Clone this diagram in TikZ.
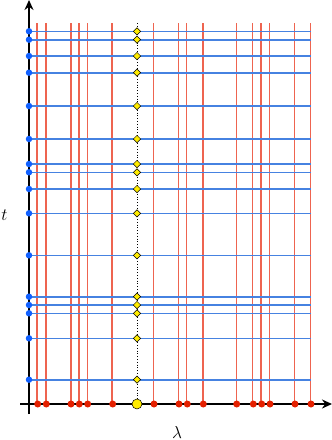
\documentclass[tikz,border=0pt]{standalone}
\usetikzlibrary{arrows.meta,shapes.geometric}
\definecolor{lnred}{RGB}{238,100,80}
\definecolor{dotred}{RGB}{228,32,0}
\definecolor{lnblue}{RGB}{70,130,225}
\definecolor{dotblue}{RGB}{16,96,255}
\definecolor{ylw}{RGB}{255,236,0}
\begin{document}
\begin{tikzpicture}[x=1pt,y=-1pt,
  redline/.style={draw=lnred, line width=1.6pt},
  blueline/.style={draw=lnblue, line width=1.6pt},
  axisline/.style={draw=black, line width=1.8pt},
  reddot/.style={circle, fill=dotred, inner sep=0pt, minimum size=7pt},
  bluedot/.style={circle, fill=dotblue, inner sep=0pt, minimum size=6.5pt},
  ydiam/.style={diamond, fill=ylw, draw=black, line width=0.5pt, inner sep=0pt, minimum size=7.5pt},
  ycirc/.style={circle, fill=ylw, draw=black, line width=0.5pt, inner sep=0pt, minimum size=10pt},
  lbl/.style={inner sep=0pt, font=\fontsize{19}{22}\selectfont}]
\useasboundingbox (0,0) rectangle (332,440);
% red vertical lines
\foreach \x [count=\i] in {37,46,71,79,87.5,112,153.5,178.5,186.5,203,236.5,252.5,261,269.5,294.5,310.5}{
  \coordinate (rt\i) at (\x,23);
  \coordinate (rb\i) at (\x,404);
  \draw[redline] (rt\i) -- (rb\i);
}
% blue horizontal lines
\foreach \y [count=\j] in {31.3,39.7,56,72.7,106,139,164,172.3,189,213.3,255.3,296.7,305,313.3,338.3,379.7}{
  \coordinate (bl\j) at (29,\y);
  \coordinate (br\j) at (310.5,\y);
  \draw[blueline] (bl\j) -- (br\j);
}
% dotted middle line
\coordinate (mt) at (137,23);
\coordinate (mb) at (137,404);
\draw[black, line width=0.8pt, dotted] (mt) -- (mb);
% axes
\coordinate (ya0) at (29,414);
\coordinate (ya1) at (29,0);
\coordinate (xa0) at (20,404);
\coordinate (xa1) at (332,404);
\draw[axisline, -{Stealth[length=10pt,width=9pt]}] (ya0) -- (ya1);
\draw[axisline, -{Stealth[length=10pt,width=9pt]}] (xa0) -- (xa1);
% dots
\foreach \x [count=\i] in {37.7,46.3,71,79.3,87.7,112.7,154,179,187.3,203.3,236.7,253.3,261.7,270,295,311}{
  \node[reddot] (rd\i) at (\x,404) {};
}
\foreach \y [count=\j] in {31.3,39.7,56,72.7,106,139,164,172.3,189,213.3,255.3,296.7,305,313.3,338.3,379.7}{
  \node[bluedot] (bd\j) at (29,\y) {};
  \node[ydiam] (yd\j) at (137,\y) {};
}
\node[ycirc] (yc) at (137,404) {};
% labels
\node[lbl] (tl) at (4.5,215) {$t$};
\node[lbl] (ll) at (177,432) {$\lambda$};
\end{tikzpicture}
\end{document}
